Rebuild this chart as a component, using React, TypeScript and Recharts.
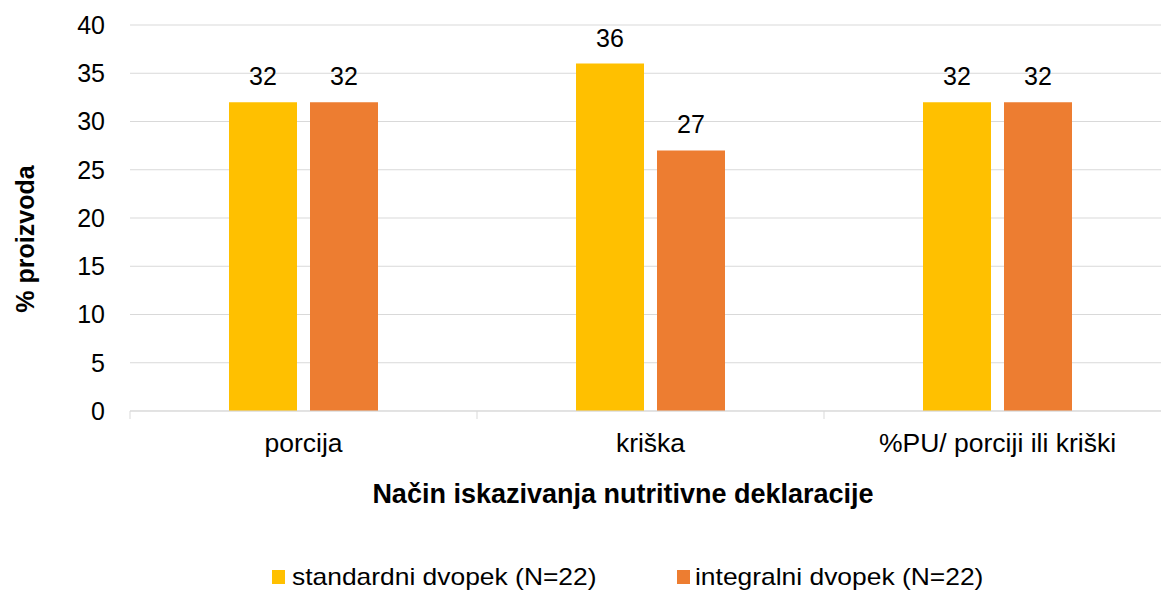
import React from "react";
import { BarChart, Bar, XAxis, YAxis, CartesianGrid, Legend, LabelList } from "recharts";

const categories = ["porcija", "kriška", "%PU/ porciji ili kriški"];
const standardni = [32, 36, 32];
const integralni = [32, 27, 32];
const yTicks = [0, 5, 10, 15, 20, 25, 30, 35, 40];

const seriesConfig = {
  standardni: { label: "standardni dvopek (N=22)", color: "#FFC000" },
  integralni: { label: "integralni dvopek (N=22)", color: "#ED7D31" },
};

const data = categories.map((name, i) => ({
  name,
  standardni: standardni[i],
  integralni: integralni[i],
}));

const gridColor = "#d9d9d9";
const font = "'Liberation Sans', Arial, sans-serif";

const CategoryTick = (props: any) => {
  const { x, y, payload, index } = props;
  const half = payload?.offset ?? 173.5;
  return (
    <g>
      <line x1={x - half} y1={y} x2={x - half} y2={y + 8} stroke={gridColor} strokeWidth={1} />
      {index === categories.length - 1 && (
        <line x1={x + half} y1={y} x2={x + half} y2={y + 8} stroke={gridColor} strokeWidth={1} />
      )}
      <text x={x} y={y + 41} textAnchor="middle" fontSize={26.5} fill="#000">
        {payload.value}
      </text>
    </g>
  );
};

const LegendContent = () => {
  const items = [
    { key: "standardni", left: 272, textLeft: 292 },
    { key: "integralni", left: 677, textLeft: 695 },
  ];
  return (
    <div style={{ position: "relative", width: "100%", height: 30 }}>
      {items.map((it) => {
        const cfg = (seriesConfig as any)[it.key];
        return (
          <React.Fragment key={it.key}>
            <div
              style={{
                position: "absolute",
                left: it.left,
                top: 10,
                width: 13,
                height: 14,
                background: cfg.color,
              }}
            />
            <span
              style={{
                position: "absolute",
                left: it.textLeft,
                top: 4.7,
                fontSize: 24,
                lineHeight: "24px",
                color: "#000",
                whiteSpace: "nowrap",
                transform: "scaleX(1.1)",
                transformOrigin: "left center",
              }}
            >
              {cfg.label}
            </span>
          </React.Fragment>
        );
      })}
    </div>
  );
};

export default function App() {
  return (
    <div
      style={{
        position: "fixed",
        top: 0,
        left: 0,
        width: 1161,
        height: 590,
        overflow: "hidden",
        background: "#fff",
        fontFamily: font,
      }}
    >
      <BarChart
        width={1180}
        height={590}
        data={data}
        margin={{ top: 25, right: 9, left: 0, bottom: 0 }}
        barSize={68}
        barGap={13}
      >
        <CartesianGrid vertical={false} stroke={gridColor} strokeWidth={1} />
        <XAxis
          dataKey="name"
          height={149}
          axisLine={{ stroke: gridColor }}
          tickLine={false}
          tickSize={0}
          tickMargin={0}
          interval={0}
          tick={<CategoryTick />}
          label={{
            content: (p: any) => {
              const vb = p.viewBox || { x: 130, y: 411 };
              return (
                <text
                  x={vb.x + 493}
                  y={vb.y + 92}
                  textAnchor="middle"
                  fontSize={27}
                  fontWeight="bold"
                  fill="#000"
                >
                  Način iskazivanja nutritivne deklaracije
                </text>
              );
            },
          }}
        />
        <YAxis
          width={130}
          domain={[0, 40]}
          ticks={yTicks}
          axisLine={false}
          tickLine={false}
          tickSize={0}
          tickMargin={25}
          tick={{ fontSize: 25, fill: "#000" }}
          label={{
            content: () => (
              <text
                x={25}
                y={239}
                transform="rotate(-90 25 239)"
                textAnchor="middle"
                dominantBaseline="central"
                fontSize={25}
                fontWeight="bold"
                fill="#000"
              >
                % proizvoda
              </text>
            ),
          }}
        />
        <Legend
          content={<LegendContent />}
          verticalAlign="bottom"
          wrapperStyle={{ position: "absolute", top: 560, bottom: "auto", left: 0, width: 1161, height: 30 }}
        />
        <Bar dataKey="standardni" fill={seriesConfig.standardni.color} isAnimationActive={false}>
          <LabelList dataKey="standardni" position="top" offset={17} fontSize={25} fill="#000" />
        </Bar>
        <Bar dataKey="integralni" fill={seriesConfig.integralni.color} isAnimationActive={false}>
          <LabelList dataKey="integralni" position="top" offset={17} fontSize={25} fill="#000" />
        </Bar>
      </BarChart>
    </div>
  );
}
